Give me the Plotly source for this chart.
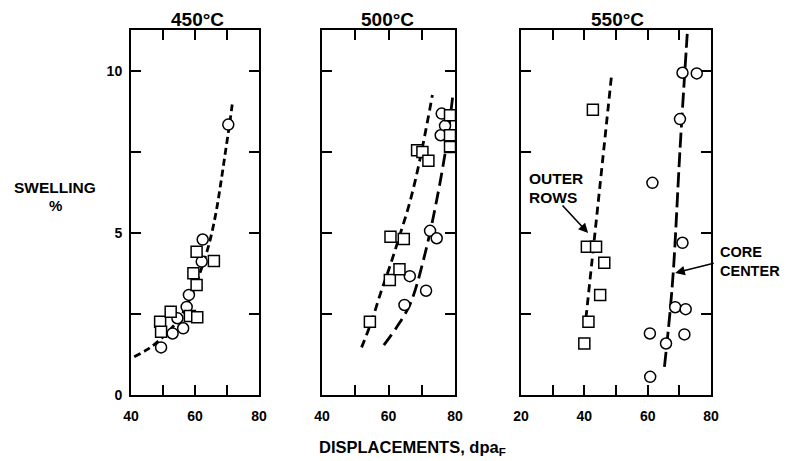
import plotly.graph_objects as go

# page has an 8px body margin; positions below are given in page pixels
OFF = 8
W, H = 789, 461

# ---------------- data ----------------
# 450 C
p1_sq_x = [49.1, 49.4, 52.4, 58.4, 60.7, 59.5, 60.5, 60.5, 65.9]
p1_sq_y = [2.26, 1.95, 2.57, 2.44, 2.40, 3.76, 3.40, 4.42, 4.14]
p1_ci_x = [70.4, 49.4, 53.0, 56.3, 54.5, 57.4, 58.1, 62.1, 62.4]
p1_ci_y = [8.35, 1.47, 1.90, 2.06, 2.37, 2.72, 3.09, 4.12, 4.80]
p1_fit_x = [41.0, 45.0, 49.0, 53.0, 56.0, 59.0, 62.0, 64.5, 66.5, 68.0, 69.5, 71.0, 71.8]
p1_fit_y = [1.18, 1.40, 1.70, 2.10, 2.50, 3.10, 3.90, 4.70, 5.60, 6.50, 7.50, 8.50, 9.10]

# 500 C
p2_sq_x = [54.4, 60.4, 63.3, 60.6, 64.6, 68.6, 70.2, 72.0, 78.5, 78.5, 78.5]
p2_sq_y = [2.26, 3.55, 3.88, 4.89, 4.82, 7.56, 7.50, 7.23, 8.64, 8.02, 7.66]
p2_ci_x = [64.8, 66.4, 71.3, 72.5, 74.5, 76.0, 77.0, 75.7]
p2_ci_y = [2.78, 3.67, 3.22, 5.07, 4.84, 8.69, 8.31, 8.02]
p2_outer_x = [51.9, 55.0, 57.6, 60.5, 63.6, 66.0, 68.1, 70.5, 73.2]
p2_outer_y = [1.47, 2.30, 3.14, 4.00, 5.00, 5.80, 6.64, 7.80, 9.26]
p2_core_x = [58.6, 62.5, 66.6, 71.0, 74.5, 77.5, 79.3]
p2_core_y = [1.54, 2.10, 2.83, 4.37, 6.02, 7.77, 9.21]

# 550 C
p3_sq_x = [42.7, 40.8, 43.7, 46.3, 45.0, 41.3, 40.0]
p3_sq_y = [8.81, 4.58, 4.58, 4.08, 3.09, 2.26, 1.59]
p3_ci_x = [71.0, 75.5, 70.2, 61.5, 71.0, 68.7, 72.0, 60.7, 71.6, 65.8, 60.8]
p3_ci_y = [9.95, 9.93, 8.52, 6.55, 4.70, 2.71, 2.65, 1.90, 1.87, 1.59, 0.56]
p3_outer_x = [40.5, 44.9, 48.6]
p3_outer_y = [2.37, 6.43, 9.88]
p3_core_x = [65.3, 67.0, 68.2, 70.2, 72.5]
p3_core_y = [0.87, 2.50, 3.96, 7.56, 11.15]

titles = ["450°C", "500°C", "550°C"]
x_ranges = [[40, 80], [40, 80], [20, 80]]
x_ticks_12 = [40, 50, 60, 70, 80]
x_text_12 = ["40", "", "60", "", "80"]
x_ticks_3 = [20, 30, 40, 50, 60, 70, 80]
x_text_3 = ["20", "", "40", "", "60", "", "80"]
y_ticks = [0, 2.5, 5, 7.5, 10]
y_text = ["0", "", "5", "", "10"]

# --------------- layout helpers (page pixel -> paper fraction) ---------------
def px2x(px):
    return (px - OFF) / W

def py2y(py):
    return 1 - (py - OFF) / H

FONT = "Liberation Sans, Arial, Helvetica, sans-serif"
panels_px = [(131, 259), (322, 455), (521, 711)]
ydom = [py2y(395), py2y(30)]

fig = go.Figure()

def add_markers(xs, ys, sym, size, ax):
    fig.add_trace(go.Scatter(
        x=xs, y=ys, mode="markers", xaxis=ax[0], yaxis=ax[1],
        marker=dict(symbol=sym, size=size, color="white",
                    line=dict(color="black", width=1.5)),
        showlegend=False, cliponaxis=False))

def add_line(xs, ys, dash, ax):
    fig.add_trace(go.Scatter(
        x=xs, y=ys, mode="lines", xaxis=ax[0], yaxis=ax[1],
        line=dict(color="black", width=2.8, dash=dash, shape="spline"),
        showlegend=False))

a1, a2, a3 = ("x", "y"), ("x2", "y2"), ("x3", "y3")
add_line(p1_fit_x, p1_fit_y, "7px,4px", a1)
add_markers(p1_ci_x, p1_ci_y, "circle", 11, a1)
add_markers(p1_sq_x, p1_sq_y, "square", 11, a1)

add_line(p2_outer_x, p2_outer_y, "8px,5px", a2)
add_line(p2_core_x, p2_core_y, "13px,6px", a2)
add_markers(p2_ci_x, p2_ci_y, "circle", 11, a2)
add_markers(p2_sq_x, p2_sq_y, "square", 11, a2)

add_line(p3_outer_x, p3_outer_y, "8px,5px", a3)
add_line(p3_core_x, p3_core_y, "15px,5px", a3)
add_markers(p3_ci_x, p3_ci_y, "circle", 11, a3)
add_markers(p3_sq_x, p3_sq_y, "square", 11, a3)

tickfont = dict(family=FONT, size=14, color="black", weight=700)
layout = dict(
    width=W, height=H, margin=dict(l=0, r=0, t=0, b=0, autoexpand=False),
    paper_bgcolor="white", plot_bgcolor="white", showlegend=False,
)
for i in range(3):
    sx = "" if i == 0 else str(i + 1)
    l, r = panels_px[i]
    layout["xaxis" + sx] = dict(
        domain=[px2x(l), px2x(r)], range=x_ranges[i], anchor="y" + sx,
        tickmode="array",
        tickvals=x_ticks_3 if i == 2 else x_ticks_12,
        ticktext=x_text_3 if i == 2 else x_text_12,
        ticks="inside", ticklen=10, tickwidth=1.6, tickcolor="black",
        showline=True, linecolor="black", linewidth=2, mirror="ticks",
        showgrid=False, zeroline=False, tickfont=tickfont,
        ticklabelstandoff=7, automargin=False,
    )
    layout["yaxis" + sx] = dict(
        domain=ydom, range=[0, 11.27], anchor="x" + sx,
        tickmode="array", tickvals=y_ticks, ticktext=y_text,
        showticklabels=(i == 0),
        ticks="inside", ticklen=10, tickwidth=1.6, tickcolor="black",
        showline=True, linecolor="black", linewidth=2, mirror="ticks",
        showgrid=False, zeroline=False, tickfont=tickfont,
        ticklabelstandoff=4, automargin=False,
    )
fig.update_layout(**layout)

ann = []
title_pos = [(197, 20), (387, 19), (617, 19)]
for t, (tx, ty) in zip(titles, title_pos):
    ann.append(dict(text="<b>" + t + "</b>", x=px2x(tx), y=py2y(ty),
                    xref="paper", yref="paper", showarrow=False,
                    xanchor="center", yanchor="middle",
                    font=dict(family=FONT, size=19, color="black")))

def txt(s, x, y, size=16, xanchor="left"):
    ann.append(dict(text="<b>" + s + "</b>", x=px2x(x), y=py2y(y),
                    xref="paper", yref="paper", showarrow=False,
                    xanchor=xanchor, yanchor="middle",
                    font=dict(family=FONT, size=size, color="black")))

txt("SWELLING", 55, 188, 15.5, "center")
txt("%", 55, 206, 15, "center")
txt("DISPLACEMENTS, dpa<sub>F</sub>", 317, 448, 16.5, "left")
txt("OUTER", 527, 178, 15.5)
txt("ROWS", 527, 197, 15.5)
txt("CORE", 718, 252, 14.5)
txt("CENTER", 718, 271, 14.5)

# arrows
ann.append(dict(x=41.2, y=5.0, xref="x3", yref="y3", text="",
                showarrow=True, ax=-27, ay=-29, arrowhead=2, arrowsize=1.2,
                arrowwidth=1.6, arrowcolor="black"))
ann.append(dict(x=68.7, y=3.77, xref="x3", yref="y3", text="",
                showarrow=True, ax=40, ay=-10, arrowhead=2, arrowsize=1.2,
                arrowwidth=1.6, arrowcolor="black"))
fig.update_layout(annotations=ann)

fig.write_html("out.html")
